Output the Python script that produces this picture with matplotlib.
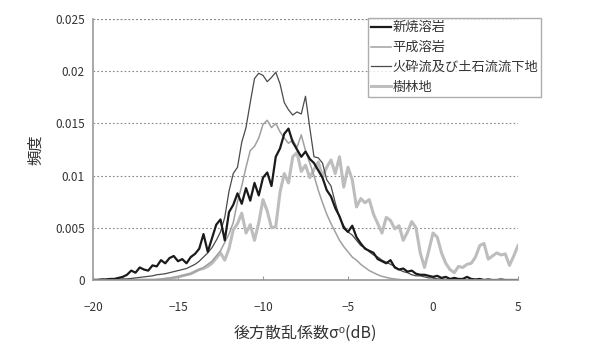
#!/usr/bin/env python3
"""Backscatter histogram per land cover class (reproduction)."""

import matplotlib
matplotlib.use("Agg")
import matplotlib.pyplot as plt
import numpy as np

plt.rcParams["font.family"] = ["Noto Sans CJK JP", "DejaVu Sans"]

# bin centres, dB
SIGMA0 = np.arange(-20, 5.001, 0.25)

LABELS = ["新焼溶岩", "平成溶岩", "火砕流及び土石流流下地", "樹林地"]

# frequencies in units of 1e-3
SHINYAKI = [
    0.0, 0.0, 0.05, 0.05, 0.1, 0.1, 0.2, 0.3, 0.5, 0.9, 0.7, 1.2, 1.0,
    0.9, 1.4, 1.3, 1.9, 1.6, 2.1, 2.3, 1.8, 2.0, 1.6, 2.2, 2.5, 3.0, 4.4,
    2.7, 4.0, 5.3, 5.8, 3.8, 6.5, 7.2, 8.3, 7.3, 8.8, 7.6, 9.3, 8.1, 9.8,
    10.3, 9.0, 11.8, 12.6, 14.0, 14.5, 13.2, 12.5, 11.8, 12.3, 11.6, 11.2,
    10.5, 9.8, 8.6, 8.0, 6.9, 6.1, 5.0, 4.6, 5.2, 4.1, 3.5, 3.0, 2.8, 2.6,
    2.0, 1.8, 1.6, 1.9, 1.2, 1.0, 1.1, 0.8, 0.9, 0.6, 0.5, 0.5, 0.4, 0.3,
    0.4, 0.2, 0.3, 0.1, 0.2, 0.1, 0.1, 0.3, 0.1, 0.05, 0.1, 0.0, 0.05,
    0.0, 0.0, 0.05, 0.0, 0.0, 0.0, 0.0,
]
HEISEI = [
    0.0, 0.0, 0.0, 0.0, 0.0, 0.0, 0.0, 0.0, 0.0, 0.0, 0.0, 0.0, 0.0,
    0.0, 0.0, 0.05, 0.1, 0.15, 0.2, 0.25, 0.3, 0.4, 0.5, 0.6, 0.8, 1.0,
    1.2, 1.5, 1.8, 2.3, 2.8, 3.6, 4.4, 5.5, 7.5, 9.0, 10.8, 12.4, 12.8,
    13.6, 14.9, 15.3, 14.6, 15.0, 14.2, 13.6, 13.1, 13.4, 12.7, 13.9,
    12.4, 11.2, 10.0, 8.6, 7.4, 6.3, 5.4, 4.6, 3.8, 3.2, 2.7, 2.2, 1.9,
    1.5, 1.2, 0.9, 0.7, 0.5, 0.35, 0.25, 0.15, 0.1, 0.05, 0.0, 0.0, 0.0,
    0.0, 0.0, 0.0, 0.0, 0.0, 0.0, 0.0, 0.0, 0.0, 0.0, 0.0, 0.0, 0.0, 0.0,
    0.0, 0.0, 0.0, 0.0, 0.0, 0.0, 0.0, 0.0, 0.0, 0.0, 0.0,
]
KASAIRYU = [
    0.0, 0.0, 0.0, 0.0, 0.0, 0.05, 0.05, 0.1, 0.1, 0.15, 0.2, 0.25, 0.3,
    0.35, 0.4, 0.5, 0.55, 0.6, 0.7, 0.8, 0.9, 1.0, 1.1, 1.3, 1.5, 1.8,
    2.2, 2.6, 3.1, 3.8, 4.6, 6.0, 8.5, 10.2, 10.8, 13.2, 14.6, 17.0, 19.3,
    19.8, 19.6, 19.0, 19.4, 19.9, 18.8, 17.0, 16.3, 15.8, 16.1, 15.9,
    17.6, 14.6, 11.8, 11.7, 11.2, 9.6, 9.0, 7.4, 6.0, 5.2, 4.6, 4.3, 3.8,
    3.3, 3.1, 2.7, 2.4, 2.2, 1.9, 1.7, 1.5, 1.3, 1.0, 0.8, 0.7, 0.5, 0.4,
    0.4, 0.3, 0.2, 0.2, 0.1, 0.1, 0.05, 0.05, 0.0, 0.0, 0.0, 0.0, 0.0,
    0.0, 0.0, 0.0, 0.0, 0.0, 0.0, 0.0, 0.0, 0.0, 0.0, 0.0,
]
JURINCHI = [
    0.0, 0.0, 0.0, 0.0, 0.0, 0.0, 0.0, 0.0, 0.0, 0.0, 0.0, 0.0, 0.0,
    0.0, 0.0, 0.0, 0.0, 0.05, 0.1, 0.2, 0.3, 0.4, 0.5, 0.6, 0.8, 1.0,
    1.1, 1.3, 1.6, 2.1, 2.6, 1.9, 3.0, 4.8, 5.4, 6.4, 4.5, 5.3, 3.8, 5.5,
    7.7, 6.6, 5.0, 5.1, 8.4, 10.2, 9.3, 11.8, 12.2, 10.4, 11.0, 9.8, 10.6,
    11.3, 9.9, 10.8, 11.5, 10.2, 11.8, 8.9, 10.8, 9.6, 7.0, 7.8, 7.4, 7.7,
    6.3, 5.4, 4.5, 6.0, 5.7, 4.9, 5.2, 3.8, 4.6, 5.6, 5.0, 2.6, 1.2, 2.8,
    4.5, 4.1, 2.6, 1.6, 1.0, 0.7, 1.3, 1.2, 1.5, 1.6, 2.2, 3.3, 3.5, 2.0,
    2.3, 2.6, 2.4, 2.5, 1.4, 2.3, 3.3,
]

COLORS = ["#1a1a1a", "#a0a0a0", "#4a4a4a", "#bdbdbd"]
WIDTHS = [1.6, 1.1, 0.9, 2.2]


def main():
    fig = plt.figure(figsize=(6.03, 3.48), dpi=100)
    ax = fig.add_axes([93 / 603, 68 / 348, 425 / 603, 261 / 348])

    series = [SHINYAKI, HEISEI, KASAIRYU, JURINCHI]
    order = [3, 1, 2, 0]  # draw light lines underneath
    handles = [None] * 4
    for i in order:
        (ln,) = ax.plot(SIGMA0, np.array(series[i]) * 1e-3, color=COLORS[i],
                        linewidth=WIDTHS[i], label=LABELS[i])
        handles[i] = ln

    ax.set_xlim(-20, 5)
    ax.set_ylim(0, 0.025)
    ax.set_xticks([-20, -15, -10, -5, 0, 5])
    ax.set_yticks([0, 0.005, 0.01, 0.015, 0.02, 0.025])
    ax.set_yticklabels(["0", "0.005", "0.01", "0.015", "0.02", "0.025"])
    ax.tick_params(axis="x", direction="in", length=3, color="#999999",
                   labelsize=8.5, labelcolor="#333333", pad=15)
    ax.tick_params(axis="y", length=0, labelsize=8.5, labelcolor="#333333", pad=6)
    for s in ["top", "right"]:
        ax.spines[s].set_visible(False)
    for s in ["left", "bottom"]:
        ax.spines[s].set_color("#999999")
        ax.spines[s].set_linewidth(1.2)
    ax.yaxis.grid(True, linestyle=(0, (1.5, 2)), color="#888888", linewidth=0.8)
    ax.axhline(0.025, linestyle=(0, (1.5, 2)), color="#888888", linewidth=0.8)
    ax.set_axisbelow(True)

    ax.set_ylabel("頻度", fontsize=11, color="#333333", labelpad=8)
    ax.set_xlabel("後方散乱係数σ⁰(dB)", fontsize=11.5, color="#333333", labelpad=8)

    leg = fig.legend(handles=handles, labels=LABELS, loc="upper left",
                     bbox_to_anchor=(368 / 603, 1 - 18 / 348), borderaxespad=0,
                     fontsize=9.5, frameon=True, fancybox=False,
                     handlelength=1.5, handletextpad=0.1, labelspacing=0.52,
                     borderpad=0.25)
    leg.get_frame().set_edgecolor("#999999")
    leg.get_frame().set_linewidth(1.0)
    for t in leg.get_texts():
        t.set_color("#333333")

    fig.savefig("out.png", dpi=100)


if __name__ == "__main__":
    main()
